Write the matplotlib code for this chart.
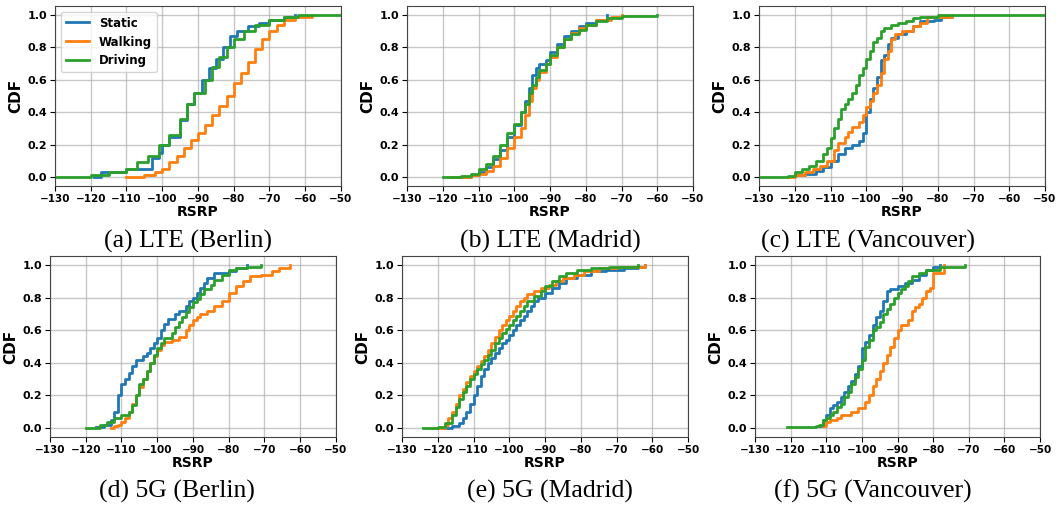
import matplotlib.pyplot as plt

# CDF steps: RSRP (dBm) and cumulative fraction
# (a) LTE Berlin
a_static_x = [-119, -117, -110, -103, -101, -100, -98, -95, -93, -91, -89, -87, -85, -83, -81, -79, -76, -73, -70, -66, -63]
a_static_y = [0.0, 0.03, 0.05, 0.12, 0.15, 0.2, 0.25, 0.35, 0.45, 0.52, 0.6, 0.67, 0.73, 0.8, 0.87, 0.9, 0.93, 0.95, 0.97, 0.99, 1.0]
a_walk_x = [-110, -105, -102, -100, -98, -96, -94, -92, -90, -88, -86, -84, -82, -80, -78, -76, -74, -72, -70, -68, -66, -63, -58]
a_walk_y = [0.0, 0.01, 0.03, 0.05, 0.09, 0.13, 0.18, 0.23, 0.27, 0.32, 0.38, 0.44, 0.5, 0.58, 0.64, 0.71, 0.79, 0.85, 0.9, 0.94, 0.97, 0.99, 1.0]
a_drive_x = [-130, -120, -115, -110, -107, -104, -101, -98, -95, -93, -91, -88, -86, -84, -82, -80, -77, -74, -70, -66, -62, -50]
a_drive_y = [0.0, 0.01, 0.03, 0.05, 0.09, 0.13, 0.2, 0.26, 0.36, 0.45, 0.52, 0.6, 0.68, 0.74, 0.8, 0.85, 0.9, 0.94, 0.97, 0.99, 1.0, 1.0]

# (b) LTE Madrid
b_static_x = [-116, -112, -110, -108, -106, -104, -102, -100, -98, -97, -96, -95, -94, -93, -91, -90, -88, -86, -84, -82, -80, -77, -74]
b_static_y = [0.0, 0.01, 0.03, 0.06, 0.11, 0.17, 0.25, 0.32, 0.4, 0.47, 0.55, 0.63, 0.67, 0.7, 0.72, 0.77, 0.82, 0.87, 0.9, 0.93, 0.95, 0.97, 1.0]
b_walk_x = [-118, -112, -110, -108, -106, -104, -102, -100, -98, -97, -96, -95, -94, -93, -91, -90, -88, -86, -84, -82, -80, -77, -73, -70]
b_walk_y = [0.0, 0.01, 0.02, 0.04, 0.07, 0.12, 0.18, 0.25, 0.3, 0.38, 0.47, 0.55, 0.6, 0.65, 0.7, 0.74, 0.8, 0.85, 0.89, 0.92, 0.94, 0.97, 0.99, 1.0]
b_drive_x = [-120, -115, -112, -110, -108, -106, -104, -102, -100, -98, -97, -96, -95, -94, -93, -91, -90, -88, -86, -84, -82, -80, -77, -74, -70, -60]
b_drive_y = [0.0, 0.005, 0.02, 0.05, 0.08, 0.13, 0.2, 0.27, 0.33, 0.4, 0.45, 0.52, 0.57, 0.62, 0.66, 0.7, 0.75, 0.8, 0.85, 0.88, 0.91, 0.94, 0.96, 0.98, 0.995, 1.0]

# (c) LTE Vancouver
c_static_x = [-120, -117, -114, -112, -110, -108, -106, -104, -102, -101, -100, -99, -98, -97, -96, -95, -94, -93, -91, -89, -87, -85, -81, -79, -76]
c_static_y = [0.01, 0.02, 0.04, 0.06, 0.1, 0.14, 0.18, 0.2, 0.22, 0.27, 0.4, 0.48, 0.55, 0.62, 0.72, 0.75, 0.82, 0.86, 0.88, 0.9, 0.93, 0.96, 0.97, 0.99, 1.0]
c_walk_x = [-122, -120, -117, -115, -113, -111, -109, -108, -106, -105, -104, -102, -101, -100, -99, -98, -97, -96, -95, -94, -93, -92, -90, -87, -85, -83, -76]
c_walk_y = [0.0, 0.01, 0.03, 0.05, 0.07, 0.1, 0.17, 0.21, 0.25, 0.28, 0.31, 0.34, 0.38, 0.43, 0.47, 0.52, 0.57, 0.64, 0.73, 0.78, 0.85, 0.88, 0.9, 0.93, 0.95, 0.99, 1.0]
c_drive_x = [-130, -122, -120, -118, -116, -114, -112, -111, -110, -109, -108, -107, -106, -105, -104, -103, -102, -101, -100, -99, -98, -97, -96, -95, -93, -91, -89, -87, -85, -80, -50]
c_drive_y = [0.0, 0.005, 0.03, 0.05, 0.07, 0.1, 0.14, 0.18, 0.24, 0.3, 0.36, 0.42, 0.45, 0.48, 0.52, 0.57, 0.63, 0.67, 0.73, 0.78, 0.83, 0.86, 0.9, 0.92, 0.94, 0.95, 0.96, 0.98, 0.99, 1.0, 1.0]

# (d) 5G Berlin
d_static_x = [-117, -115, -113, -112, -111, -110, -109, -108, -107, -106, -104, -103, -102, -101, -100, -99, -98, -97, -95, -94, -92, -91, -90, -89, -88, -87, -86, -84, -80, -78, -75]
d_static_y = [0.005, 0.02, 0.05, 0.1, 0.2, 0.27, 0.3, 0.34, 0.38, 0.42, 0.44, 0.46, 0.49, 0.52, 0.55, 0.6, 0.64, 0.67, 0.7, 0.72, 0.75, 0.78, 0.8, 0.83, 0.86, 0.89, 0.92, 0.95, 0.96, 0.98, 1.0]
d_walk_x = [-113, -112, -111, -110, -109, -108, -107, -106, -105, -104, -103, -102, -101, -100, -99, -98, -96, -94, -92, -91, -90, -89, -88, -86, -84, -82, -80, -78, -76, -74, -71, -68, -66, -63]
d_walk_y = [0.0, 0.01, 0.02, 0.04, 0.06, 0.1, 0.15, 0.2, 0.25, 0.3, 0.35, 0.4, 0.44, 0.48, 0.51, 0.53, 0.54, 0.56, 0.6, 0.63, 0.66, 0.68, 0.7, 0.72, 0.75, 0.78, 0.83, 0.87, 0.9, 0.93, 0.94, 0.96, 0.98, 1.0]
d_drive_x = [-120, -116, -114, -112, -110, -108, -107, -106, -105, -104, -103, -102, -101, -100, -99, -98, -96, -95, -94, -93, -92, -91, -90, -89, -88, -87, -85, -84, -82, -80, -78, -75, -71]
d_drive_y = [0.0, 0.02, 0.04, 0.06, 0.08, 0.1, 0.14, 0.2, 0.27, 0.3, 0.35, 0.4, 0.45, 0.49, 0.52, 0.55, 0.58, 0.62, 0.65, 0.68, 0.71, 0.74, 0.77, 0.79, 0.82, 0.85, 0.88, 0.91, 0.94, 0.97, 0.98, 0.99, 1.0]

# (e) 5G Madrid
e_static_x = [-118, -116, -114, -113, -112, -111, -110, -109, -108, -107, -106, -105, -104, -103, -102, -101, -100, -99, -98, -97, -96, -95, -94, -93, -92, -90, -88, -86, -84, -81, -77, -73, -68, -64, -62]
e_static_y = [0.0, 0.01, 0.03, 0.06, 0.1, 0.15, 0.2, 0.26, 0.32, 0.36, 0.4, 0.43, 0.46, 0.49, 0.52, 0.54, 0.57, 0.6, 0.63, 0.66, 0.69, 0.72, 0.75, 0.78, 0.8, 0.83, 0.86, 0.89, 0.92, 0.94, 0.96, 0.97, 0.98, 0.99, 1.0]
e_walk_x = [-121, -118, -117, -116, -115, -114, -113, -112, -111, -110, -109, -108, -107, -106, -105, -104, -103, -102, -101, -100, -99, -98, -97, -96, -95, -93, -91, -89, -87, -85, -82, -79, -75, -70, -62]
e_walk_y = [0.0, 0.02, 0.06, 0.1, 0.15, 0.2, 0.24, 0.28, 0.32, 0.35, 0.38, 0.41, 0.44, 0.48, 0.52, 0.56, 0.6, 0.63, 0.66, 0.69, 0.72, 0.75, 0.78, 0.8, 0.82, 0.84, 0.86, 0.88, 0.9, 0.92, 0.94, 0.96, 0.98, 0.99, 1.0]
e_drive_x = [-124, -120, -118, -116, -115, -114, -113, -112, -111, -110, -109, -108, -107, -106, -105, -104, -103, -102, -101, -100, -99, -98, -97, -96, -95, -93, -91, -90, -88, -86, -84, -81, -77, -72, -64]
e_drive_y = [0.0, 0.005, 0.03, 0.08, 0.13, 0.18, 0.22, 0.26, 0.3, 0.33, 0.36, 0.39, 0.42, 0.45, 0.48, 0.52, 0.55, 0.58, 0.61, 0.63, 0.66, 0.69, 0.72, 0.75, 0.78, 0.81, 0.84, 0.87, 0.9, 0.93, 0.95, 0.97, 0.98, 0.99, 1.0]

# (f) 5G Vancouver
f_static_x = [-112, -111, -110, -109, -108, -107, -106, -105, -104, -103, -102, -101, -100, -99, -98, -97, -96, -95, -94, -93, -92, -90, -88, -86, -84, -82, -80, -78]
f_static_y = [0.01, 0.05, 0.08, 0.12, 0.14, 0.16, 0.19, 0.22, 0.26, 0.29, 0.33, 0.38, 0.49, 0.53, 0.57, 0.63, 0.68, 0.72, 0.78, 0.84, 0.85, 0.87, 0.89, 0.91, 0.94, 0.97, 0.99, 1.0]
f_walk_x = [-111, -110, -109, -107, -106, -103, -101, -99, -98, -97, -96, -95, -94, -93, -92, -91, -90, -89, -87, -86, -85, -84, -83, -82, -81, -80, -77, -77]
f_walk_y = [0.01, 0.04, 0.05, 0.06, 0.08, 0.1, 0.12, 0.16, 0.2, 0.26, 0.3, 0.35, 0.4, 0.45, 0.5, 0.55, 0.6, 0.63, 0.66, 0.72, 0.74, 0.76, 0.8, 0.84, 0.86, 0.95, 0.97, 1.0]
f_drive_x = [-121, -113, -112, -111, -110, -109, -108, -107, -106, -105, -104, -103, -102, -101, -100, -99, -98, -97, -96, -95, -94, -93, -92, -91, -90, -89, -88, -87, -86, -84, -82, -78, -71]
f_drive_y = [0.005, 0.01, 0.02, 0.05, 0.06, 0.08, 0.1, 0.13, 0.15, 0.19, 0.22, 0.27, 0.31, 0.36, 0.42, 0.5, 0.54, 0.6, 0.62, 0.65, 0.7, 0.73, 0.76, 0.8, 0.83, 0.85, 0.87, 0.9, 0.93, 0.95, 0.97, 0.99, 1.0]

panels = [
    ("(a) LTE (Berlin)", a_static_x, a_static_y, a_walk_x, a_walk_y, a_drive_x, a_drive_y),
    ("(b) LTE (Madrid)", b_static_x, b_static_y, b_walk_x, b_walk_y, b_drive_x, b_drive_y),
    ("(c) LTE (Vancouver)", c_static_x, c_static_y, c_walk_x, c_walk_y, c_drive_x, c_drive_y),
    ("(d) 5G (Berlin)", d_static_x, d_static_y, d_walk_x, d_walk_y, d_drive_x, d_drive_y),
    ("(e) 5G (Madrid)", e_static_x, e_static_y, e_walk_x, e_walk_y, e_drive_x, e_drive_y),
    ("(f) 5G (Vancouver)", f_static_x, f_static_y, f_walk_x, f_walk_y, f_drive_x, f_drive_y),
]
labels = ["Static", "Walking", "Driving"]
colors = ["#1f77b4", "#ff7f0e", "#2ca02c"]
xticks = [-130, -120, -110, -100, -90, -80, -70, -60, -50]
yticks = [0.0, 0.2, 0.4, 0.6, 0.8, 1.0]

# axes boxes in pixels (left, top, right, bottom) and caption centres
W, H = 1062, 509
boxes = [(55, 6, 341, 186), (407, 6, 693, 186), (759, 6, 1045, 186),
         (50, 256, 336, 437), (402, 256, 688, 437), (755, 256, 1040, 437)]
caps = [(188, 241), (550, 241), (868, 241), (177, 491), (550, 491), (873, 491)]

fig = plt.figure(figsize=(W / 100, H / 100), dpi=100)

for i, (cap, sx, sy, wx, wy, dx, dy) in enumerate(panels):
    l, t, r, b = boxes[i]
    ax = fig.add_axes([l / W, 1 - b / H, (r - l) / W, (b - t) / H])
    for xs, ys, lab, c in zip([sx, wx, dx], [sy, wy, dy], labels, colors):
        ax.step(xs, ys, where="post", color=c, lw=2, label=lab)
    ax.set_xlim(-130, -50)
    ax.set_ylim(-0.055, 1.055)
    ax.set_xticks(xticks)
    ax.set_yticks(yticks)
    ax.set_xticklabels([f"\u2212{-v}" for v in xticks], fontsize=7.5, fontweight="bold")
    ax.set_yticklabels([f"{v:.1f}" for v in yticks], fontsize=8, fontweight="bold")
    ax.set_xlabel("RSRP", fontsize=10, fontweight="bold", labelpad=1)
    ax.set_ylabel("CDF", fontsize=11, fontweight="bold", labelpad=3)
    ax.grid(True, color="#b0b0b0", alpha=0.7, lw=1)
    ax.tick_params(pad=2)
    for s in ax.spines.values():
        s.set_color("#444444")
    if i == 0:
        ax.legend(loc="upper left", prop={"weight": "bold", "size": 8.5},
                  handlelength=2, borderaxespad=0.5)
    fig.text(caps[i][0] / W, 1 - caps[i][1] / H, cap, ha="center", va="center",
             fontsize=18.5, family="Liberation Serif")

fig.savefig("out.png", dpi=100)
